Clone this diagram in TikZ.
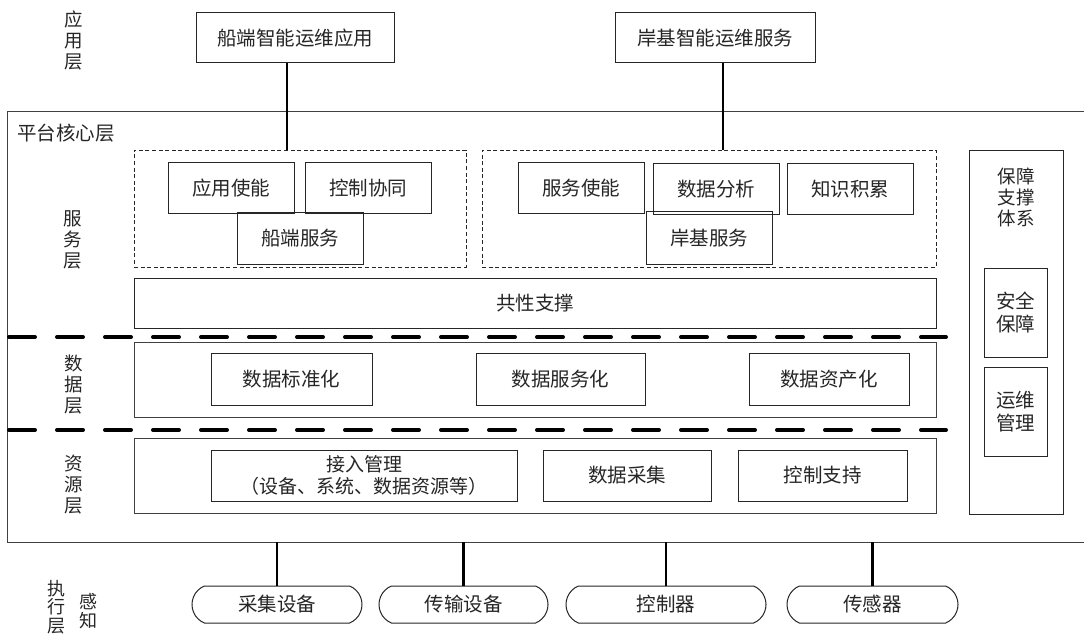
\documentclass[tikz,border=0pt]{standalone}
\usepackage{fontspec}
\setmainfont{Noto Sans CJK SC}
\usetikzlibrary{shapes.misc}
\begin{document}
\begin{tikzpicture}[x=1pt,y=-1pt,
  every node/.style={font=\fontsize{19.5}{23}\selectfont, text=black!85},
  box/.style={draw=black!85, line width=1pt, inner sep=0pt, align=center},
  dbox/.style={draw=black!85, line width=0.9pt, dash pattern=on 4pt off 2.6pt},
  layerbox/.style={draw=black!75, line width=1pt},
  sep/.style={line width=4pt, line cap=round, dash pattern=on 26pt off 22pt},
  conn/.style={line width=2.8pt},
  bconn/.style={line width=2.2pt},
  pill/.style={draw=black!85, line width=1pt, rounded rectangle, rounded rectangle arc length=135, minimum height=37pt, inner sep=0pt},
  lbl/.style={align=center, inner sep=0pt, font=\fontsize{18.5}{21}\selectfont}
]
\useasboundingbox (0,0) rectangle (1084,639);
\fill[white] (0,0) rectangle (1084,639);

% application layer
\node[lbl] (appL) at (74,40) {应\\用\\层};
\node[box, minimum width=198pt, minimum height=50pt] (app1) at (295,38) {船端智能运维应用};
\node[box, minimum width=200pt, minimum height=50pt] (app2) at (715,38) {岸基智能运维服务};

% platform core border
\coordinate (ptl) at (7,112);
\coordinate (pbl) at (7,542);
\draw[draw=black!75, line width=1pt] (1084,112) -- (ptl) -- (pbl) -- (1084,542);
\node[anchor=west, inner sep=0pt] (core) at (17,133) {平台核心层};

% service layer
\node[lbl] (srvL) at (73,240) {服\\务\\层};
\node[dbox, minimum width=332pt, minimum height=117pt, inner sep=0pt] (dashL) at (300,208.5) {};
\node[dbox, minimum width=454pt, minimum height=117pt, inner sep=0pt] (dashR) at (709,208.5) {};
\node[box, minimum width=126pt, minimum height=51pt] (s1) at (231,188.5) {应用使能};
\node[box, minimum width=126pt, minimum height=51pt] (s2) at (368,188.5) {控制协同};
\node[box, minimum width=126pt, minimum height=51pt] (s3) at (300,238.5) {船端服务};
\node[box, minimum width=126pt, minimum height=51pt] (s4) at (581,188.5) {服务使能};
\node[box, minimum width=126pt, minimum height=51pt] (s5) at (716,189.5) {数据分析};
\node[box, minimum width=126pt, minimum height=51pt] (s6) at (850,189.5) {知识积累};
\node[box, minimum width=126pt, minimum height=52pt] (s7) at (709,238) {岸基服务};
\node[box, minimum width=802pt, minimum height=50pt] (common) at (535,303) {共性支撑};

\coordinate (cl) at (287,0);
\coordinate (cr) at (723,0);
\draw[conn] (app1.south -| cl) -- (cl |- dashL.north);
\draw[conn] (app2.south -| cr) -- (cr |- dashR.north);

% separators
\coordinate (sep1a) at (9,337);
\coordinate (sep1b) at (946,337);
\coordinate (sep2a) at (9,430);
\coordinate (sep2b) at (946,430);
\draw[sep] (sep1a) -- (sep1b);
\draw[sep] (sep2a) -- (sep2b);

% data layer
\node[lbl] (dataL) at (74,385) {数\\据\\层};
\node[layerbox, minimum width=802pt, minimum height=75pt, inner sep=0pt] (dataB) at (535,379.5) {};
\node[box, minimum width=161pt, minimum height=52pt] (d1) at (291.5,379) {数据标准化};
\node[box, minimum width=169pt, minimum height=52pt] (d2) at (560.5,379) {数据服务化};
\node[box, minimum width=160pt, minimum height=52pt] (d3) at (829,379) {数据资产化};

% resource layer
\node[lbl] (resL) at (74,485) {资\\源\\层};
\node[layerbox, minimum width=802pt, minimum height=75pt, inner sep=0pt] (resB) at (535,475.5) {};
\node[box, minimum width=306pt, minimum height=51pt, font=\fontsize{19}{22.5}\selectfont] (r1) at (364,475.5) {接入管理\\（设备、系统、数据资源等）};
\node[box, minimum width=168pt, minimum height=51pt] (r2) at (627,475.5) {数据采集};
\node[box, minimum width=169pt, minimum height=51pt] (r3) at (822.5,475.5) {控制支持};

% support system
\node[box, minimum width=94pt, minimum height=363pt] (sup) at (1016,332.5) {};
\node[lbl] (supT) at (1016,197) {保障\\支撑\\体系};
\node[box, minimum width=63pt, minimum height=89pt] (sec) at (1015.5,312.5) {安全\\保障};
\node[box, minimum width=63pt, minimum height=89pt] (ops) at (1015.5,411.5) {运维\\管理};

% perception & execution layer
\node[lbl, font=\fontsize{18}{18.5}\selectfont] (exeL) at (56,607) {执\\行\\层};
\node[lbl, font=\fontsize{18}{19}\selectfont] (senL) at (88,611) {感\\知};
\node[pill, minimum width=170pt] (p1) at (277,604.5) {采集设备};
\node[pill, minimum width=169pt] (p2) at (463.5,604.5) {传输设备};
\node[pill, minimum width=200pt] (p3) at (666,604.5) {控制器};
\node[pill, minimum width=171pt] (p4) at (872.5,604.5) {传感器};
\draw[bconn] (p1.north) -- (p1.north |- pbl);
\draw[bconn] (p2.north) -- (p2.north |- pbl);
\draw[bconn] (p3.north) -- (p3.north |- pbl);
\draw[bconn] (p4.north) -- (p4.north |- pbl);
\end{tikzpicture}
\end{document}
